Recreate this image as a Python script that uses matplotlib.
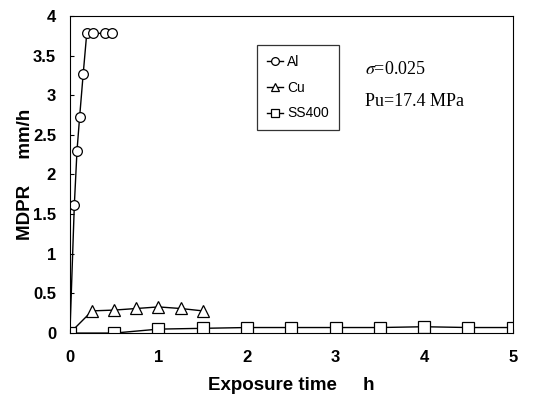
import matplotlib
matplotlib.use("Agg")
import matplotlib.pyplot as plt

# Al
al_time = [0.0, 0.05, 0.08, 0.11, 0.15, 0.19, 0.26, 0.40, 0.47]
al_mdpr = [0.0, 1.62, 2.30, 2.73, 3.27, 3.78, 3.78, 3.78, 3.78]

# Cu
cu_time = [0.0, 0.25, 0.5, 0.75, 1.0, 1.25, 1.5]
cu_mdpr = [0.0, 0.28, 0.29, 0.31, 0.33, 0.31, 0.28]

# SS400
ss_time = [0.0, 0.5, 1.0, 1.5, 2.0, 2.5, 3.0, 3.5, 4.0, 4.5, 5.0]
ss_mdpr = [0.0, 0.0, 0.05, 0.06, 0.07, 0.07, 0.07, 0.07, 0.08, 0.07, 0.07]

plt.rcParams['font.family'] = ['Liberation Sans', 'DejaVu Sans']
plt.rcParams['mathtext.fontset'] = 'stix'

fig = plt.figure(figsize=(5.42, 3.97), dpi=100)
ax = fig.add_axes([0.129, 0.161, 0.817, 0.799])

mk = dict(color='black', markerfacecolor='white', markeredgecolor='black',
          linewidth=1.0, markeredgewidth=0.9)
ax.plot(al_time, al_mdpr, marker='o', markersize=7, label='Al', **mk)
ax.plot(cu_time, cu_mdpr, marker='^', markersize=8, label='Cu', **mk)
ax.plot(ss_time, ss_mdpr, marker='s', markersize=8, label='SS400', **mk)

ax.set_xlim(0, 5)
ax.set_ylim(0, 4)
ax.set_xticks([0, 1, 2, 3, 4, 5])
ax.set_yticks([0, 0.5, 1, 1.5, 2, 2.5, 3, 3.5, 4])
ax.set_yticklabels(['0', '0.5', '1', '1.5', '2', '2.5', '3', '3.5', '4'])
ax.tick_params(direction='in', length=3, labelsize=12)
ax.tick_params(axis='x', pad=12)
ax.tick_params(axis='y', pad=10)
for lab in ax.get_xticklabels() + ax.get_yticklabels():
    lab.set_fontweight('bold')

ax.set_xlabel('Exposure time     h', fontsize=13.5, fontweight='bold', labelpad=9)
ax.set_ylabel('MDPR     mm/h', fontsize=13.5, fontweight='bold')
ax.yaxis.set_label_coords(-0.081, 0.5)

leg = ax.legend(loc='upper left', bbox_to_anchor=(0.422, 0.908), fontsize=10,
                frameon=True, fancybox=False, edgecolor='black',
                handlelength=1.2, handletextpad=0.3, markerscale=0.8,
                borderpad=0.7, labelspacing=0.85, borderaxespad=0)
leg.get_frame().set_linewidth(0.9)

ax.text(0.666, 0.83, r'$\sigma$=0.025', transform=ax.transAxes,
        fontsize=13, family='Liberation Serif', va='center')
ax.text(0.666, 0.729, 'Pu=17.4 MPa', transform=ax.transAxes,
        fontsize=13, family='Liberation Serif', va='center')

fig.savefig('out.png', dpi=100)
